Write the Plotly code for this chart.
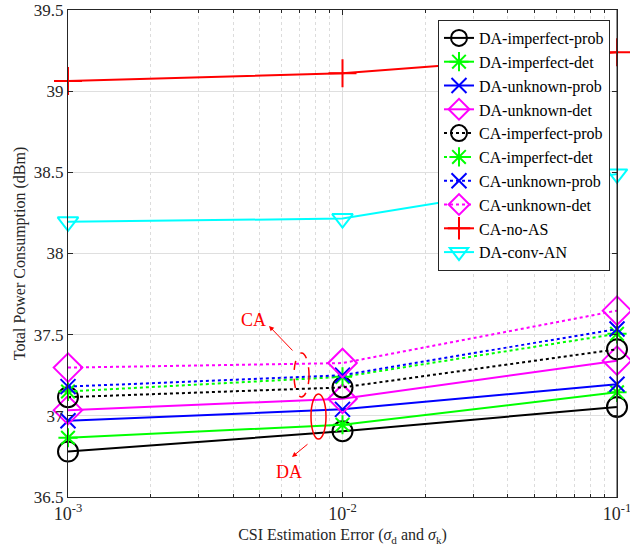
import plotly.graph_objects as go

x_err = [1e-3, 1e-2, 1e-1]

da_imperfect_prob = [36.78, 36.905, 37.055]
da_imperfect_det = [36.865, 36.945, 37.145]
da_unknown_prob = [36.97, 37.04, 37.195]
da_unknown_det = [37.035, 37.105, 37.34]
ca_imperfect_prob = [37.115, 37.175, 37.41]
ca_imperfect_det = [37.15, 37.24, 37.505]
ca_unknown_prob = [37.18, 37.25, 37.535]
ca_unknown_det = [37.297, 37.325, 37.648]
ca_no_as = [39.063, 39.11, 39.24]
da_conv_an = [38.195, 38.215, 38.49]

y_ticks = [36.5, 37, 37.5, 38, 38.5, 39, 39.5]
y_ticktext = ["36.5", "37", "37.5", "38", "38.5", "39", "39.5"]
x_ticks = [1e-3, 1e-2, 1e-1]
x_ticktext = ["10<sup>-3</sup>", "10<sup>-2</sup>", "10<sup>-1</sup>"]

series = [
    ("DA-imperfect-prob", da_imperfect_prob, "black", "solid", "circle-open", 20),
    ("DA-imperfect-det", da_imperfect_det, "#00ff00", "solid", "asterisk-open", 16),
    ("DA-unknown-prob", da_unknown_prob, "blue", "solid", "x-thin-open", 15),
    ("DA-unknown-det", da_unknown_det, "magenta", "solid", "diamond-open", 22),
    ("CA-imperfect-prob", ca_imperfect_prob, "black", "dot", "circle-open", 20),
    ("CA-imperfect-det", ca_imperfect_det, "#00ff00", "dot", "asterisk-open", 16),
    ("CA-unknown-prob", ca_unknown_prob, "blue", "dot", "x-thin-open", 15),
    ("CA-unknown-det", ca_unknown_det, "magenta", "dot", "diamond-open", 22),
    ("CA-no-AS", ca_no_as, "red", "solid", "cross-thin-open", 20),
    ("DA-conv-AN", da_conv_an, "cyan", "solid", "triangle-down-open", 18),
]

fig = go.Figure()
for name, ys, color, dash, sym, size in series:
    fig.add_trace(go.Scatter(
        x=x_err, y=ys, name=name, mode="lines+markers",
        line=dict(color=color, width=2, dash=dash),
        marker=dict(symbol=sym, size=size, color=color, line=dict(width=2, color=color)),
        cliponaxis=False,
    ))

L, R, T, B = 68, 13, 10, 57
W, H = 630, 554
pw, ph = W - L - R, H - T - B

def px(x):
    return (x - L) / pw

def py(y):
    return (H - B - y) / ph

shapes = [
    dict(type="circle", xref="paper", yref="paper",
         x0=px(294), x1=px(309), y0=py(397), y1=py(353),
         line=dict(color="red", width=1.5, dash="dash")),
    dict(type="circle", xref="paper", yref="paper",
         x0=px(311), x1=px(326), y0=py(439), y1=py(394),
         line=dict(color="red", width=1.5)),
    dict(type="line", xref="paper", yref="paper", x0=1, x1=1, y0=0, y1=1,
         line=dict(color="#262626", width=1)),
]

annotations = [
    dict(xref="paper", yref="paper", x=px(269), y=py(326), ax=294 - 269, ay=352 - 326,
         showarrow=True, arrowhead=2, arrowsize=1,
         arrowwidth=1, arrowcolor="red", text=""),
    dict(xref="paper", yref="paper", x=px(253), y=py(320), text="CA", showarrow=False,
         xanchor="center", yanchor="middle",
         font=dict(color="red", size=18, family="Liberation Serif")),
    dict(xref="paper", yref="paper", x=px(292), y=py(457), ax=309 - 292, ay=443 - 457,
         showarrow=True, arrowhead=2, arrowsize=1,
         arrowwidth=1, arrowcolor="red", text=""),
    dict(xref="paper", yref="paper", x=px(289), y=py(472), text="DA", showarrow=False,
         xanchor="center", yanchor="middle",
         font=dict(color="red", size=18, family="Liberation Serif")),
]

fig.update_layout(
    width=W, height=H,
    margin=dict(l=L, r=R, t=T, b=B, autoexpand=False),
    plot_bgcolor="white", paper_bgcolor="white",
    font=dict(family="Liberation Serif", size=16, color="#262626"),
    shapes=shapes, annotations=annotations,
    legend=dict(x=px(610), y=py(20), xanchor="right", yanchor="top",
                bgcolor="white", bordercolor="#262626", borderwidth=1,
                font=dict(size=16, color="black", family="Liberation Serif"),
                tracegroupgap=0, itemwidth=30),
    xaxis=dict(type="log", range=[-3.000001, -0.999999], tickvals=x_ticks, ticktext=x_ticktext,
               tickfont=dict(size=18), showline=True, linecolor="#262626", linewidth=1,
               mirror="ticks", ticks="inside", ticklen=5, tickcolor="#262626",
               showgrid=True, gridcolor="#dfdfdf", gridwidth=1, zeroline=False,
               automargin=False, ticklabeloverflow="allow",
               minor=dict(dtick="D1", ticks="inside", ticklen=3, tickcolor="#262626",
                          showgrid=True, gridcolor="#dcdcdc", griddash="dot", gridwidth=1),
               title=dict(text="CSI Estimation Error (<i>σ</i><sub>d</sub> and <i>σ</i><sub>k</sub>)",
                          font=dict(size=16), standoff=6)),
    yaxis=dict(range=[36.5, 39.5], tickvals=y_ticks, ticktext=y_ticktext,
               tickfont=dict(size=17), showline=True, linecolor="#262626", linewidth=1,
               mirror="ticks", ticks="inside", ticklen=5, tickcolor="#262626",
               showgrid=True, gridcolor="#dfdfdf", gridwidth=1, zeroline=False,
               automargin=False, ticklabeloverflow="allow",
               title=dict(text="Total Power Consumption (dBm)", font=dict(size=16), standoff=4)),
)

fig.write_html("out.html", config={"displayModeBar": False},
               post_script="document.body.style.margin='0';document.body.style.overflow='hidden';")
